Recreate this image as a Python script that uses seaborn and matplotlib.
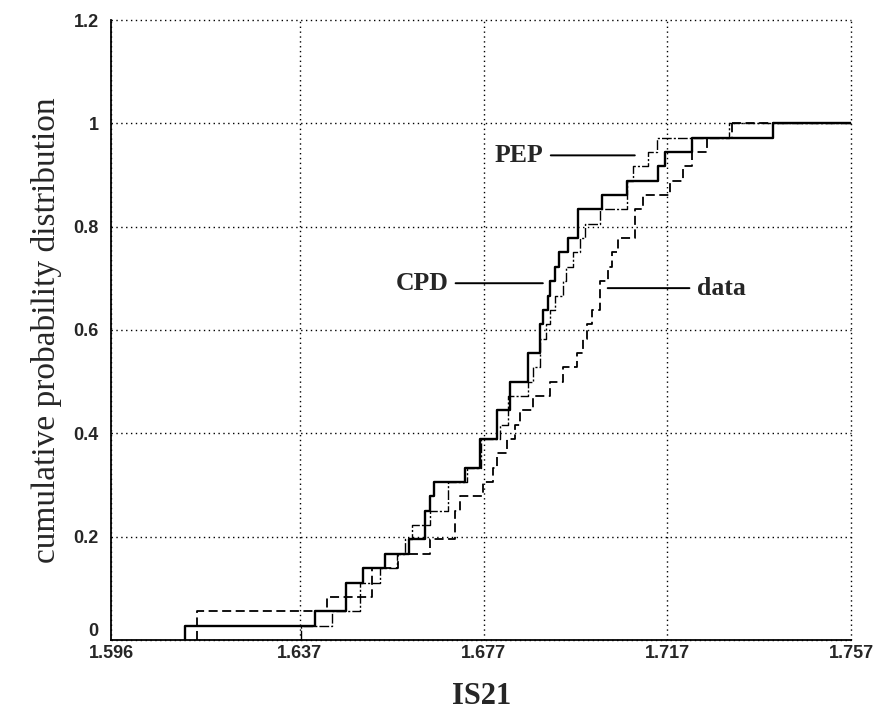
import numpy as np
import pandas as pd
import matplotlib
matplotlib.use("Agg")
import matplotlib.pyplot as plt
import seaborn as sns

# ---- data ----
cpd = [1.6121, 1.6403, 1.6471, 1.6471, 1.6508, 1.6556, 1.6608, 1.6643, 1.6643,
       1.6653, 1.6662, 1.6730, 1.6762, 1.6762, 1.6799, 1.6799, 1.6827, 1.6827,
       1.6867, 1.6867, 1.6893, 1.6893, 1.6899, 1.6910, 1.6914, 1.6925, 1.6934,
       1.6953, 1.6975, 1.6975, 1.7027, 1.7082, 1.7149, 1.7164, 1.7223, 1.7399]
pep = [1.6373, 1.6440, 1.6501, 1.6501, 1.6545, 1.6582, 1.6599, 1.6614, 1.6653,
       1.6693, 1.6693, 1.6734, 1.6764, 1.6764, 1.6806, 1.6823, 1.6823, 1.6867,
       1.6877, 1.6893, 1.6893, 1.6906, 1.6914, 1.6925, 1.6943, 1.6949, 1.6964,
       1.6980, 1.6990, 1.7023, 1.7082, 1.7082, 1.7095, 1.7127, 1.7147, 1.7303]
data_vals = [1.6147, 1.6147, 1.6430, 1.6527, 1.6527, 1.6584, 1.6653, 1.6708, 1.6708,
             1.6719, 1.6769, 1.6790, 1.6799, 1.6821, 1.6838, 1.6849, 1.6877, 1.6914,
             1.6943, 1.6973, 1.6986, 1.6995, 1.7006, 1.7023, 1.7023, 1.7040, 1.7049,
             1.7062, 1.7099, 1.7099, 1.7117, 1.7175, 1.7203, 1.7223, 1.7256, 1.7310]

x_ticks = [1.596, 1.637, 1.677, 1.717, 1.757]
x_tick_labels = ["1.596", "1.637", "1.677", "1.717", "1.757"]
y_ticks = [0, 0.2, 0.4, 0.6, 0.8, 1.0, 1.2]
y_tick_labels = ["0", "0.2", "0.4", "0.6", "0.8", "1", "1.2"]

series_names = ["CPD", "PEP", "data"]
series_values = [cpd, pep, data_vals]

sns.set_style("white")
fig = plt.figure(figsize=(8.75, 7.15), dpi=100)
ax = fig.add_axes([0.127, 0.105, 0.846, 0.867])

styles = {
    "CPD": dict(linewidth=1.7, linestyle="-"),
    "PEP": dict(linewidth=1.0, linestyle=(0, (7, 1.5, 1.5, 1.5))),
    "data": dict(linewidth=1.3, linestyle=(0, (5, 2.5))),
}

for name, vals in zip(series_names, series_values):
    sns.ecdfplot(x=vals, ax=ax, color="black", **styles[name])
    ax.hlines(1.0, max(vals), x_ticks[-1], color="black", **styles[name])

ax.set_xlim(x_ticks[0], x_ticks[-1])
ax.set_ylim(y_ticks[0], y_ticks[-1])
ax.set_xticks(x_ticks)
ax.set_xticklabels(x_tick_labels)
ax.set_yticks(y_ticks)
ax.set_yticklabels(y_tick_labels)
ax.tick_params(axis="x", length=0, pad=4)
ax.tick_params(axis="y", length=0, pad=9)
for lab in ax.get_xticklabels() + ax.get_yticklabels():
    lab.set_fontfamily("Liberation Sans")
    lab.set_fontweight("bold")
    lab.set_fontsize(13)
# the "0" label sits raised above the x-axis line, as in the reference
ax.get_yticklabels()[0].set_verticalalignment("bottom")

ax.grid(True, color="black", linestyle=(0, (1, 2.5)), linewidth=1.0)
for gl in ax.xaxis.get_gridlines() + ax.yaxis.get_gridlines():
    gl.set_clip_on(False)

for side in ["top", "right"]:
    ax.spines[side].set_visible(False)
for side in ["left", "bottom"]:
    ax.spines[side].set_color("black")
    ax.spines[side].set_linewidth(1.3)

ax.set_ylabel("cumulative probability distribution", family="Liberation Serif",
              fontsize=24, labelpad=8)
ax.set_xlabel("IS21", family="Liberation Serif", fontsize=22, fontweight="bold",
              labelpad=14)

ann_kw = dict(family="Liberation Serif", fontsize=18.5, fontweight="bold", va="center")
arrow = dict(arrowstyle="-", lw=1.4, color="black", shrinkA=3, shrinkB=0)
ax.annotate("PEP", xy=(1.7099, 0.938), xytext=(1.6900, 0.938), ha="right",
            arrowprops=arrow, **ann_kw)
ax.annotate("CPD", xy=(1.6899, 0.6905), xytext=(1.6693, 0.6905), ha="right",
            arrowprops=arrow, **ann_kw)
ax.annotate("data", xy=(1.7040, 0.681), xytext=(1.7234, 0.681), ha="left",
            arrowprops=arrow, **ann_kw)

fig.savefig("out.png", dpi=100)
